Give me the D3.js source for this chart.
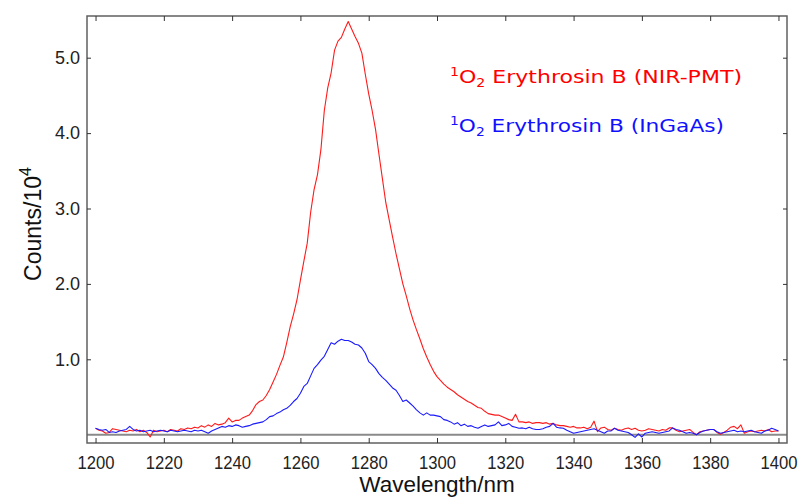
<!DOCTYPE html>
<html><head><meta charset="utf-8">
<script src="https://cdn.jsdelivr.net/npm/d3@7"></script>
<style>body{margin:0;background:#fff}</style>
</head><body><svg id="c" width="798" height="497"></svg>
<script>
const startWavelength = 1200; // nm, 1 nm step
const redCounts = [
0.085,0.06,0.05,0.02,0.03,0.08,0.07,0.06,0.05,0.04,
0.06,0.05,0.07,0.04,0.06,0.03,-0.03,0.06,0.04,0.05,
0.06,0.04,0.07,0.06,0.05,0.08,0.07,0.09,0.08,0.10,
0.09,0.12,0.10,0.13,0.11,0.15,0.13,0.14,0.16,0.22,
0.17,0.19,0.19,0.22,0.24,0.26,0.32,0.40,0.44,0.46,
0.52,0.60,0.70,0.80,0.92,1.03,1.22,1.43,1.60,1.79,
2.05,2.30,2.54,2.95,3.25,3.45,3.78,4.30,4.60,4.80,
5.10,5.22,5.27,5.38,5.48,5.38,5.28,5.19,5.06,4.78,
4.52,4.30,4.05,3.72,3.40,3.08,2.85,2.62,2.40,2.20,
2.00,1.84,1.67,1.52,1.39,1.27,1.14,1.03,0.93,0.84,
0.77,0.72,0.67,0.63,0.60,0.57,0.53,0.50,0.47,0.44,
0.42,0.39,0.36,0.35,0.31,0.28,0.27,0.26,0.26,0.24,
0.22,0.20,0.19,0.27,0.17,0.17,0.16,0.17,0.15,0.16,
0.16,0.15,0.16,0.14,0.15,0.13,0.12,0.12,0.11,0.10,
0.11,0.09,0.09,0.10,0.08,0.10,0.18,0.04,0.09,0.10,
0.07,0.06,0.085,0.07,0.06,0.08,0.09,0.07,0.085,0.06,
0.05,0.06,0.08,0.07,0.06,0.05,0.07,0.06,0.09,0.09,
0.06,0.04,0.05,0.06,0.07,0.03,0.00,0.04,0.05,0.06,
0.07,0.07,0.03,0.005,0.03,0.06,0.10,0.11,0.08,0.13,
0.02,0.04,0.05,0.04,0.05,0.06,0.05,0.07,0.04,0.05,
0.05];
const blueCounts = [
0.085,0.07,0.06,0.07,0.03,0.04,0.03,0.05,0.06,0.07,
0.11,0.07,0.05,0.06,0.04,0.05,0.06,0.04,0.05,0.06,
0.05,0.04,0.06,0.05,0.04,0.05,0.06,0.05,0.04,0.06,
0.05,0.06,0.04,0.02,0.05,0.07,0.09,0.11,0.10,0.12,
0.11,0.13,0.12,0.10,0.11,0.12,0.14,0.15,0.16,0.17,
0.20,0.24,0.25,0.28,0.30,0.33,0.35,0.39,0.44,0.48,
0.55,0.64,0.68,0.78,0.88,0.93,0.99,1.04,1.13,1.22,
1.20,1.24,1.265,1.25,1.25,1.23,1.20,1.19,1.15,1.08,
0.97,0.93,0.88,0.81,0.76,0.72,0.67,0.62,0.59,0.52,
0.44,0.46,0.42,0.38,0.33,0.29,0.26,0.29,0.26,0.26,
0.25,0.24,0.20,0.19,0.17,0.14,0.16,0.12,0.14,0.11,
0.12,0.10,0.085,0.11,0.13,0.11,0.12,0.13,0.17,0.12,
0.13,0.15,0.11,0.10,0.085,0.09,0.08,0.10,0.08,0.07,
0.07,0.08,0.10,0.11,0.15,0.10,0.09,0.085,0.06,0.04,
0.02,0.03,0.04,0.05,0.06,0.07,0.08,0.06,0.04,0.02,
0.05,0.05,0.085,0.06,0.05,0.04,0.03,0.00,-0.035,0.01,
-0.03,0.02,0.03,0.04,0.03,0.02,0.03,0.04,0.05,0.09,
0.07,0.06,0.04,0.02,0.03,0.02,0.00,0.03,0.05,0.06,
0.07,0.07,0.04,0.02,0.03,0.04,0.05,0.06,0.04,0.05,
0.04,0.05,0.06,0.04,0.03,0.02,0.05,0.06,0.085,0.07,
0.05];
const xTicks = [1200,1220,1240,1260,1280,1300,1320,1340,1360,1380,1400];
const yTicks = [1.0,2.0,3.0,4.0,5.0];
const legendLabels = ["Erythrosin B (NIR-PMT)", "Erythrosin B (InGaAs)"];
const seriesColors = ["#ff1a1a", "#1a1aff"];
const textColors = ["#ff0000", "#1010ff"];

const W = 798, H = 497;
const m = {left: 87, right: 11, top: 16, bottom: 54};
const svg = d3.select("#c");
const x = d3.scaleLinear().domain([1197.5, 1402.5]).range([m.left, W - m.right]);
const y = d3.scaleLinear().domain([-0.11, 5.553]).range([H - m.bottom, m.top]);

const series = [redCounts, blueCounts].map(arr => arr.map((v, i) => ({w: startWavelength + i, v})));

// zero line
svg.append("line").attr("x1", x.range()[0]).attr("x2", x.range()[1])
  .attr("y1", y(0)).attr("y2", y(0)).attr("stroke", "#8a8a8a").attr("stroke-width", 2);

const line = d3.line().x(d => x(d.w)).y(d => y(d.v));
series.forEach((s, i) => {
  svg.append("path").datum(s).attr("d", line).attr("fill", "none")
    .attr("stroke", seriesColors[i]).attr("stroke-width", 1.1).attr("stroke-linejoin", "round");
});

// frame
svg.append("rect").attr("x", m.left).attr("y", m.top)
  .attr("width", W - m.left - m.right).attr("height", H - m.top - m.bottom)
  .attr("fill", "none").attr("stroke", "#606060").attr("stroke-width", 1.5);

const fontAx = "'Liberation Sans', Arial, sans-serif";
// bottom axis (inward ticks)
const xb = svg.append("g").attr("transform", `translate(0,${H - m.bottom})`)
  .call(d3.axisBottom(x).tickValues(xTicks).tickSizeInner(-5).tickSizeOuter(0).tickPadding(13).tickFormat(d3.format("d")));
xb.select(".domain").remove();
xb.selectAll("line").attr("stroke", "#333").attr("stroke-width", 1);
xb.selectAll("text").attr("font-family", fontAx).attr("font-size", 18.5).attr("fill", "#222")
  .attr("textLength", 37).attr("lengthAdjust", "spacingAndGlyphs");
// top ticks
const xt = svg.append("g").attr("transform", `translate(0,${m.top})`)
  .call(d3.axisTop(x).tickValues(xTicks).tickSizeInner(-5).tickSizeOuter(0).tickFormat(""));
xt.select(".domain").remove();
xt.selectAll("line").attr("stroke", "#333");
// left axis
const yl = svg.append("g").attr("transform", `translate(${m.left},0)`)
  .call(d3.axisLeft(y).tickValues(yTicks).tickSizeInner(-4).tickSizeOuter(0).tickPadding(7).tickFormat(d3.format(".1f")));
yl.select(".domain").remove();
yl.selectAll("line").attr("stroke", "#333");
yl.selectAll("text").attr("font-family", fontAx).attr("font-size", 18).attr("fill", "#222");
// right ticks
const yr = svg.append("g").attr("transform", `translate(${W - m.right},0)`)
  .call(d3.axisRight(y).tickValues(yTicks).tickSizeInner(-4).tickSizeOuter(0).tickFormat(""));
yr.select(".domain").remove();
yr.selectAll("line").attr("stroke", "#333");

// axis titles
svg.append("text").attr("x", (m.left + W - m.right) / 2).attr("y", 491.5)
  .attr("text-anchor", "middle").attr("font-family", fontAx).attr("font-size", 22.5).attr("fill", "#111")
  .text("Wavelength/nm");
const yt = svg.append("text").attr("transform", `translate(41,224) rotate(-90)`)
  .attr("text-anchor", "middle").attr("font-family", fontAx).attr("font-size", 23).attr("fill", "#111");
yt.append("tspan").text("Counts/10");
yt.append("tspan").attr("font-size", 16).attr("dy", -10).text("4");

// legend
const legY = [83, 132];
const legW = [292, 274];
legendLabels.forEach((lab, i) => {
  const t = svg.append("text").attr("x", 450).attr("y", legY[i])
    .attr("font-family", "'DejaVu Sans', Verdana, sans-serif").attr("font-size", 18)
    .attr("fill", textColors[i]).attr("textLength", legW[i]).attr("lengthAdjust", "spacingAndGlyphs");
  t.append("tspan").attr("font-size", 11.5).attr("dy", -7).text("1");
  t.append("tspan").attr("dy", 7).text("O");
  t.append("tspan").attr("font-size", 11.5).attr("dy", 4).text("2");
  t.append("tspan").attr("dy", -4).text(" " + lab);
});
</script>
</body></html>
